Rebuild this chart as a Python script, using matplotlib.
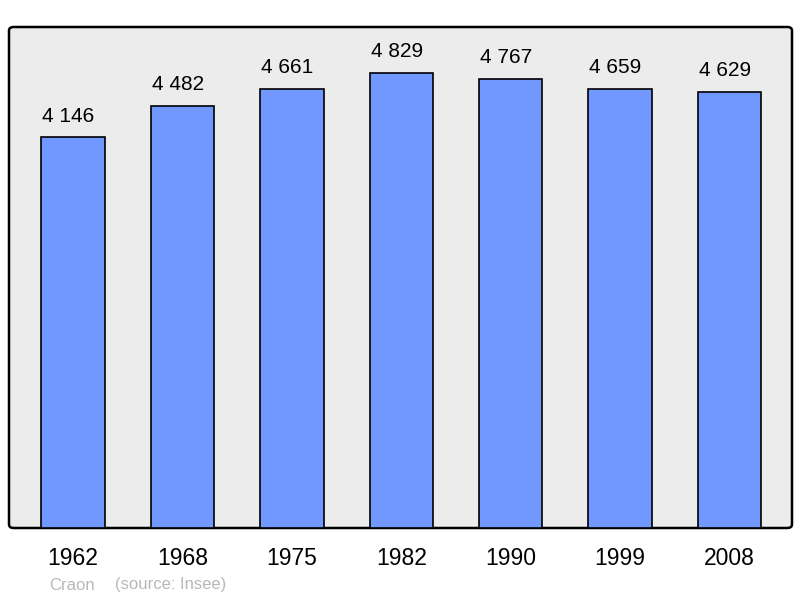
import matplotlib.pyplot as plt
from matplotlib.patches import FancyBboxPatch

plt.rcParams['font.family'] = ['Liberation Sans', 'DejaVu Sans']

# data
years = ['1962', '1968', '1975', '1982', '1990', '1999', '2008']
population = [4146, 4482, 4661, 4829, 4767, 4659, 4629]
labels = ['4 146', '4 482', '4 661', '4 829', '4 767', '4 659', '4 629']


def main():
    fig = plt.figure(figsize=(8, 5.98), dpi=100)
    ax = fig.add_axes([9 / 800, 70 / 598, 783 / 800, 501 / 598])
    ax.set_facecolor('none')

    # grey panel with rounded corners behind the bars
    panel = FancyBboxPatch((9 / 800, 70 / 598), 783 / 800, 501 / 598,
                           boxstyle='round,pad=0,rounding_size=0.006',
                           transform=fig.transFigure, facecolor='#ececec',
                           edgecolor='black', linewidth=1.8, zorder=-5)
    fig.patches.append(panel)

    x = range(len(years))
    ax.bar(x, population, width=0.58, color='#7098ff',
           edgecolor='black', linewidth=1.2, zorder=2)

    for i, (v, s) in enumerate(zip(population, labels)):
        ax.annotate(s, xy=(i, v), xytext=(-3.3, 15.2), textcoords='offset points',
                    ha='center', va='center', fontsize=15)

    ax.set_xlim(-0.585, 6.571)
    ax.set_ylim(0, 5317)
    ax.set_xticks(list(x))
    ax.set_xticklabels(years, fontsize=16.5)
    ax.tick_params(axis='x', length=0, pad=14)
    ax.set_yticks([])
    for sp in ax.spines.values():
        sp.set_visible(False)

    fig.text(49 / 800, 1 - 585 / 598, 'Craon', color='#b8b8b8',
             fontsize=12, va='center')
    fig.text(115 / 800, 1 - 585 / 598, '(source: Insee)', color='#b8b8b8',
             fontsize=12, va='center')

    fig.savefig('out.png', dpi=100)


if __name__ == "__main__":
    main()
